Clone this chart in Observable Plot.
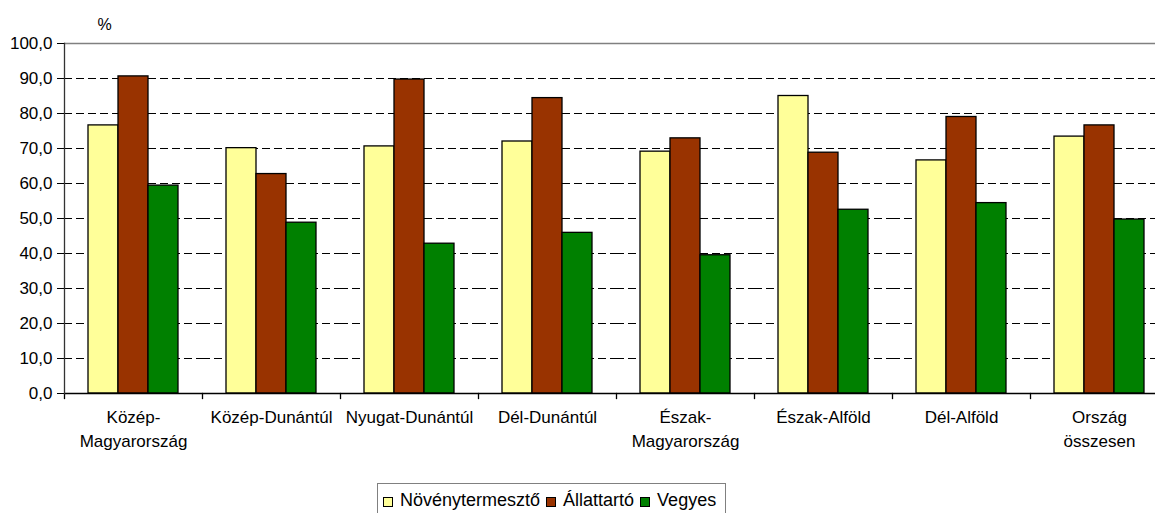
<!DOCTYPE html>
<html>
<head>
<meta charset="utf-8">
<script src="https://cdn.jsdelivr.net/npm/d3@7"></script>
<script src="https://cdn.jsdelivr.net/npm/@observablehq/plot@0.6"></script>
<style>
  html, body { margin: 0; padding: 0; background: #fff; }
  body { width: 1155px; height: 513px; overflow: hidden; font-family: "Liberation Sans", Arial, sans-serif; }
  #chart svg { display: block; }
  #legend {
    position: absolute; left: 377px; top: 483px;
    border: 1px solid #808080; background: #fff;
    padding: 6px 9px 10px 5px;
    font-size: 18px; line-height: 21px; color: #000;
    display: flex; align-items: center; white-space: nowrap;
  }
  #legend .item { display: inline-flex; align-items: center; margin-right: 6px; }
  #legend .item:last-child { margin-right: 0; }
  #legend .sw { display: inline-block; width: 8px; height: 8px; border: 1px solid #000; margin-right: 7px; margin-top: 3px; }
</style>
</head>
<body>
<div id="chart"></div>
<div id="legend"></div>
<script>
const categories = ["Közép-Magyarország","Közép-Dunántúl","Nyugat-Dunántúl","Dél-Dunántúl","Észak-Magyarország","Észak-Alföld","Dél-Alföld","Ország összesen"];
const categoryLabels = ["Közép-\nMagyarország","Közép-Dunántúl","Nyugat-Dunántúl","Dél-Dunántúl","Észak-\nMagyarország","Észak-Alföld","Dél-Alföld","Ország\nösszesen"];
const series = ["Növénytermesztő","Állattartó","Vegyes"];
const novenytermeszto = [76.6, 70.1, 70.6, 72.0, 69.1, 85.0, 66.6, 73.4];
const allattarto      = [90.6, 62.7, 89.7, 84.4, 72.9, 68.8, 79.0, 76.6];
const vegyes          = [59.4, 48.8, 42.8, 45.9, 39.5, 52.5, 54.4, 49.7];
const yTicks = [0, 10, 20, 30, 40, 50, 60, 70, 80, 90, 100];
const gridTicks = [10, 20, 30, 40, 50, 60, 70, 80, 90];
const colors = ["#FFFF99", "#993300", "#008000"];

const valuesBySeries = [novenytermeszto, allattarto, vegyes];
const data = [];
categories.forEach((c, i) => {
  series.forEach((s, j) => data.push({cat: c, series: s, value: valuesBySeries[j][i]}));
});
const labelOf = new Map(categories.map((c, i) => [c, categoryLabels[i]]));

const W = 1155, H = 470, mTop = 43, mBottom = 77, mLeft = 64, mRight = -13;
const plotH = H - mTop - mBottom;
const font = "Liberation Sans, Arial, sans-serif";

const chart = Plot.plot({
  width: W, height: H,
  marginTop: mTop, marginBottom: mBottom, marginLeft: mLeft, marginRight: mRight,
  style: {fontFamily: font, fontSize: "17px", color: "#000", background: "#fff"},
  fx: {domain: categories, padding: 0, axis: null},
  x: {domain: series, paddingInner: 0, paddingOuter: 0.742, axis: null},
  y: {domain: [0, 100], axis: null},
  color: {domain: series, range: colors},
  marks: [
    Plot.ruleY(gridTicks, {stroke: "#000", strokeDasharray: "8,4", strokeWidth: 1}),
    Plot.ruleY([100], {stroke: "#808080", strokeWidth: 1.3}),
    Plot.barY(data, {fx: "cat", x: "series", y: "value", fill: "series", stroke: "#000", strokeWidth: 1.3}),
    Plot.ruleY([0], {stroke: "#000", strokeWidth: 1.3}),
    Plot.frame({anchor: "left", insetTop: plotH, insetBottom: -5, stroke: "#000", strokeWidth: 1.3}),
    Plot.frame({anchor: "left", fx: () => categories[0], stroke: "#333", strokeWidth: 1.3}),
    Plot.axisY({ticks: yTicks, tickFormat: d => d.toFixed(1).replace(".", ","), tickSize: 7, tickPadding: 5, fontSize: 17, label: null, stroke: "#000"}),
    Plot.axisFx({anchor: "bottom", tickSize: 0, tickPadding: 12, fontSize: 17, lineHeight: 1.42, tickFormat: d => labelOf.get(d), label: null}),
    Plot.text(["%"], {fx: () => categories[0], frameAnchor: "top-left", text: d => d, dx: 40, dy: -25, fontSize: 16, textAnchor: "middle"})
  ]
});
document.getElementById("chart").appendChild(chart);

const legend = document.getElementById("legend");
series.forEach((s, i) => {
  const item = document.createElement("span");
  item.className = "item";
  const sw = document.createElement("span");
  sw.className = "sw";
  sw.style.background = colors[i];
  item.appendChild(sw);
  item.appendChild(document.createTextNode(s));
  legend.appendChild(item);
});
</script>
</body>
</html>
